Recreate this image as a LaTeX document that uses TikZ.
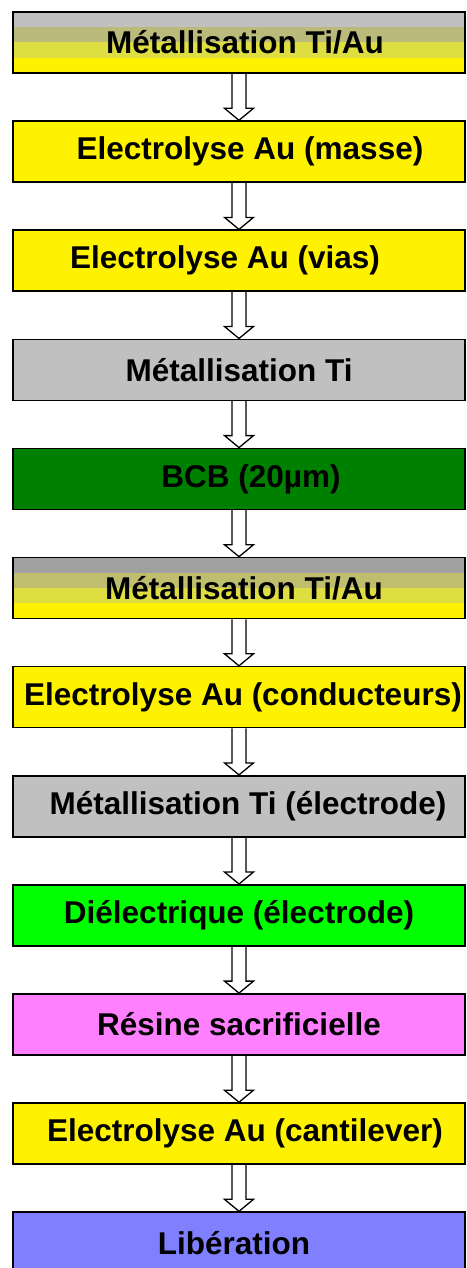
\documentclass[tikz,border=0pt]{standalone}
\usepackage{fontspec}
\setmainfont{Liberation Sans}
\usetikzlibrary{positioning,calc,backgrounds}

\definecolor{tigray}{RGB}{192,192,192}
\definecolor{tigraydk}{RGB}{160,160,160}
\definecolor{tikhaki}{RGB}{186,186,122}
\definecolor{tikhakidk}{RGB}{190,190,110}
\definecolor{tidull}{RGB}{222,222,66}
\definecolor{bcbgreen}{RGB}{0,128,0}
\definecolor{dielgreen}{RGB}{0,255,0}
\definecolor{resinpink}{RGB}{255,128,255}
\definecolor{liberblue}{RGB}{128,128,255}

\begin{document}
\begin{tikzpicture}[
    node distance=46.5pt,
    stepbox/.style={rectangle, draw, line width=1.6pt, minimum width=452pt, minimum height=61pt, inner sep=0pt, font=\fontsize{31.5}{36}\selectfont\bfseries},
    nudge/.style={execute at begin node={\hspace*{#1}}},
    tiau/.style 2 args={path picture={
        \coordinate (pn) at (path picture bounding box.north west);
        \coordinate (ps) at (path picture bounding box.south east);
        \foreach \c [count=\k from 0] in {#1,#2,tidull,yellow}
            \fill[\c] let \p1=(pn), \p2=(ps), \n1={(\y1-\y2)/4} in
                (\x1,\y1-\k*\n1) rectangle (\x2,\y1-\k*\n1-\n1);
    }},
    hollow/.style={draw, fill=white, line width=1.3pt, to path={
        let \p1=(\tikztostart), \p2=(\tikztotarget) in
        (\x1-7pt,\y1) -- (\x1-7pt,\y2+12pt) -- (\x1-14.5pt,\y2+12pt) -- (\x1,\y2)
        -- (\x1+14.5pt,\y2+12pt) -- (\x1+7pt,\y2+12pt) -- (\x1+7pt,\y1)}}
]
\useasboundingbox (0,0) rectangle (466pt,-1268pt);

\node[stepbox, tiau={tigray}{tikhaki}, nudge=12pt] (tiau1) at (239pt,-42.5pt) {Métallisation Ti/Au};
\node[stepbox, fill=yellow, nudge=22pt, below=of tiau1] (masse) {Electrolyse Au (masse)};
\node[stepbox, fill=yellow, nudge=-28pt, below=of masse] (vias) {Electrolyse Au (vias)};
\node[stepbox, fill=tigray, below=of vias] (ti1) {Métallisation Ti};
\node[stepbox, fill=bcbgreen, nudge=24pt, below=of ti1] (bcb) {BCB (20µm)};
\node[stepbox, tiau={tigraydk}{tikhakidk}, nudge=10pt, below=of bcb] (tiau2) {Métallisation Ti/Au};
\node[stepbox, fill=yellow, nudge=8pt, below=of tiau2] (cond) {Electrolyse Au (conducteurs)};
\node[stepbox, fill=tigray, nudge=18pt, below=of cond] (ti2) {Métallisation Ti (électrode)};
\node[stepbox, fill=dielgreen, below=of ti2] (diel) {Diélectrique (électrode)};
\node[stepbox, fill=resinpink, below=of diel] (resin) {Résine sacrificielle};
\node[stepbox, fill=yellow, nudge=12pt, below=of resin] (canti) {Electrolyse Au (cantilever)};
\node[stepbox, fill=liberblue, nudge=-10pt, below=of canti] (liber) {Libération};

\begin{scope}[on background layer]
\draw[hollow] (tiau1.south) to (masse.north);
\draw[hollow] (masse.south) to (vias.north);
\draw[hollow] (vias.south) to (ti1.north);
\draw[hollow] (ti1.south) to (bcb.north);
\draw[hollow] (bcb.south) to (tiau2.north);
\draw[hollow] (tiau2.south) to (cond.north);
\draw[hollow] (cond.south) to (ti2.north);
\draw[hollow] (ti2.south) to (diel.north);
\draw[hollow] (diel.south) to (resin.north);
\draw[hollow] (resin.south) to (canti.north);
\draw[hollow] (canti.south) to (liber.north);
\end{scope}
\end{tikzpicture}
\end{document}
